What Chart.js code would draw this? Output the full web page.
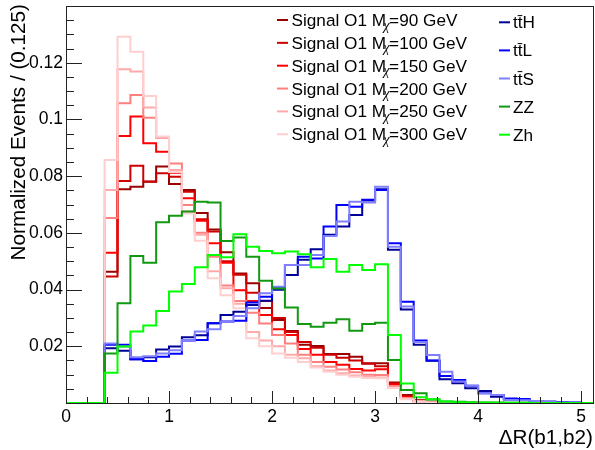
<!DOCTYPE html>
<html>
<head>
<meta charset="utf-8">
<script src="https://cdn.jsdelivr.net/npm/chart.js@4.4.0/dist/chart.umd.min.js"></script>
<style>
  html, body { margin: 0; padding: 0; background: #fff; }
</style>
</head>
<body>
<canvas id="c" width="595" height="450"></canvas>
<script>
// histogram binning: 41 bins of 0.125 from 0 to 5.125
const binWidth = 0.125;
const binLow = Array.from({ length: 41 }, (_, i) => i * binWidth);

// normalized bin contents, one array per sample
const sig90  = [0,0,0, 0.0463,0.0754,0.0763,0.0780,0.0834,0.0772,0.0751,0.0670,0.0612,0.0532, 0.0457,0.0422,0.0335,0.0293,0.0254,0.0205,0.0201,0.0173,0.0173,0.0163, 0.0140,0.0140,0.0072,0.0028,0.0010,0.0004,0.0002,0,0,0, 0,0,0,0,0,0,0,0];
const sig100 = [0,0,0, 0.0446,0.0783,0.0837,0.0781,0.0810,0.0798,0.0745,0.0648,0.0605,0.0500, 0.0452,0.0389,0.0360,0.0300,0.0250,0.0215,0.0195,0.0170,0.0160,0.0150, 0.0138,0.0130,0.0070,0.0025,0.0008,0.0003,0.0002,0,0,0, 0,0,0,0,0,0,0,0];
const sig150 = [0,0,0, 0.0530,0.0942,0.1010,0.0916,0.0886,0.0812,0.0722,0.0643,0.0563,0.0495, 0.0398,0.0360,0.0310,0.0260,0.0240,0.0190,0.0170,0.0145,0.0135,0.0120, 0.0115,0.0119,0.0065,0.0020,0.0007,0.0003,0.0001,0,0,0, 0,0,0,0,0,0,0,0];
const sig200 = [0,0,0, 0.0652,0.1057,0.1086,0.1006,0.0935,0.0845,0.0698,0.0600,0.0516,0.0414, 0.0360,0.0318,0.0280,0.0240,0.0210,0.0170,0.0145,0.0128,0.0118,0.0108, 0.0100,0.0099,0.0060,0.0018,0.0006,0.0002,0.0001,0,0,0, 0,0,0,0,0,0,0,0];
const sig250 = [0,0,0, 0.0751,0.1177,0.1169,0.1042,0.0937,0.0822,0.0675,0.0593,0.0465,0.0405, 0.0350,0.0250,0.0220,0.0200,0.0170,0.0158,0.0130,0.0115,0.0105,0.0097, 0.0092,0.0090,0.0055,0.0015,0.0005,0.0002,0.0001,0,0,0, 0,0,0,0,0,0,0,0];
const sig300 = [0,0,0, 0.0857,0.1292,0.1239,0.1083,0.0940,0.0815,0.0668,0.0572,0.0440,0.0380, 0.0334,0.0228,0.0200,0.0175,0.0160,0.0145,0.0125,0.0110,0.0100,0.0093, 0.0088,0.0087,0.0053,0.0013,0.0005,0.0002,0.0001,0,0,0, 0,0,0,0,0,0,0,0];
const ttH = [0,0,0, 0.0193,0.0184,0.0154,0.0161,0.0189,0.0199,0.0232,0.0239,0.0281,0.0310, 0.0322,0.0346,0.0361,0.0399,0.0451,0.0505,0.0542,0.0593,0.0622,0.0663, 0.0714,0.0754,0.0540,0.0330,0.0205,0.0149,0.0084,0.0070,0.0052,0.0042, 0.0022,0.0014,0.0012,0.0006,0.0004,0.0003,0.0001,0];
const ttL = [0,0,0, 0.0205,0.0205,0.0154,0.0148,0.0163,0.0174,0.0220,0.0222,0.0281,0.0287, 0.0290,0.0354,0.0375,0.0405,0.0487,0.0516,0.0510,0.0622,0.0698,0.0692, 0.0717,0.0751,0.0563,0.0357,0.0220,0.0150,0.0095,0.0081,0.0061,0.0034, 0.0028,0.0016,0.0014,0.0005,0.0004,0.0002,0.0002,0];
const ttS = [0,0,0, 0.0210,0.0199,0.0161,0.0165,0.0175,0.0186,0.0222,0.0252,0.0260,0.0287, 0.0307,0.0334,0.0387,0.0410,0.0487,0.0487,0.0522,0.0589,0.0640,0.0710, 0.0707,0.0763,0.0551,0.0340,0.0215,0.0169,0.0110,0.0076,0.0061,0.0034, 0.0028,0.0011,0.0010,0.0007,0.0004,0.0002,0.0002,0];
const ZZ  = [0,0,0, 0.0175,0.0352,0.0518,0.0495,0.0637,0.0660,0.0675,0.0710,0.0707,0.0571, 0.0584,0.0516,0.0431,0.0404,0.0337,0.0279,0.0269,0.0283,0.0295,0.0255, 0.0279,0.0283,0.0152,0.0046,0.0034,0.0012,0.0005,0.0004,0.0003,0.0002, 0.0002,0.0001,0.0001,0,0,0,0,0];
const Zh  = [0,0,0, 0.0107,0.0199,0.0252,0.0273,0.0324,0.0393,0.0420,0.0479,0.0522,0.0514, 0.0595,0.0551,0.0536,0.0528,0.0534,0.0525,0.0479,0.0508,0.0463,0.0487, 0.0469,0.0489,0.0240,0.0069,0.0020,0.0013,0.0005,0.0003,0.0002,0.0002, 0.0001,0.0001,0.0001,0,0,0,0,0];

const signalMasses = ['90', '100', '150', '200', '250', '300'];
const bkgLabels = ['tt\u0304H', 'tt\u0304L', 'tt\u0304S', 'ZZ', 'Zh'];

const FONT = '"Liberation Sans", Arial, Helvetica, sans-serif';
const GREEK = '"Liberation Serif", "DejaVu Serif", serif';

const series = [
  { label: 'Signal O1 Mχ=90 GeV',  data: sig90,  color: '#990000' },
  { label: 'Signal O1 Mχ=100 GeV', data: sig100, color: '#cc0000' },
  { label: 'Signal O1 Mχ=150 GeV', data: sig150, color: '#ff0000' },
  { label: 'Signal O1 Mχ=200 GeV', data: sig200, color: '#ff7f7f' },
  { label: 'Signal O1 Mχ=250 GeV', data: sig250, color: '#ffaaaa' },
  { label: 'Signal O1 Mχ=300 GeV', data: sig300, color: '#ffcfcf' },
  { label: bkgLabels[0], data: ttH, color: '#000099' },
  { label: bkgLabels[1], data: ttL, color: '#0000ff' },
  { label: bkgLabels[2], data: ttS, color: '#7f7fff' },
  { label: bkgLabels[3], data: ZZ,  color: '#119911' },
  { label: bkgLabels[4], data: Zh,  color: '#00ff00' },
];

// points at the low edge of every bin, plus the upper edge of the last one
function histPoints(vals) {
  const pts = vals.map((v, i) => ({ x: binLow[i], y: v }));
  pts.push({ x: binLow[vals.length - 1] + binWidth, y: vals[vals.length - 1] });
  return pts;
}

const datasets = series.map((s, i) => ({
  label: s.label,
  data: histPoints(s.data),
  borderColor: s.color,
  backgroundColor: s.color,
  borderWidth: 2,
  pointRadius: 0,
  stepped: 'before',
  fill: false,
  order: series.length - i, // later samples drawn on top, like ROOT
}));

// ROOT style frame, inward ticks, titles and legend
const rootStyle = {
  id: 'rootStyle',
  afterDraw(chart) {
    const { ctx, chartArea: a, scales } = chart;
    const xs = scales.x, ys = scales.y;
    ctx.save();
    ctx.strokeStyle = '#222';
    ctx.lineWidth = 1;
    ctx.strokeRect(a.left + 0.5, a.top + 0.5, a.right - a.left - 1, a.bottom - a.top);

    ctx.beginPath();
    for (let k = 0; k <= 28; k++) {
      const v = k * 0.005;
      const py = Math.round(ys.getPixelForValue(v)) + 0.5;
      const len = k % 4 === 0 ? 16 : 8;
      ctx.moveTo(a.left, py);
      ctx.lineTo(a.left + len, py);
    }
    for (let k = 0; k <= 25; k++) {
      const v = k * 0.2;
      const px = Math.round(xs.getPixelForValue(v)) + 0.5;
      const len = k % 5 === 0 ? 12 : 6;
      ctx.moveTo(px, a.bottom);
      ctx.lineTo(px, a.bottom - len);
    }
    ctx.stroke();

    // axis titles
    ctx.fillStyle = '#000';
    ctx.font = `20.7px ${FONT}`;
    ctx.textBaseline = 'alphabetic';
    ctx.textAlign = 'right';
    ctx.fillText('ΔR(b1,b2)', 593, 444);
    ctx.save();
    ctx.translate(25, 4);
    ctx.rotate(-Math.PI / 2);
    ctx.fillText('Normalized Events / (0.125)', 0, 0);
    ctx.restore();

    // legend, signals column
    ctx.textAlign = 'left';
    const lf = 17.2;
    signalMasses.forEach((m, i) => {
      const base = 26 + i * 22.85;
      ctx.strokeStyle = series[i].color;
      ctx.lineWidth = 2;
      ctx.beginPath();
      ctx.moveTo(277, base - 6);
      ctx.lineTo(288, base - 6);
      ctx.stroke();
      ctx.font = `${lf}px ${FONT}`;
      const head = 'Signal O1 M';
      ctx.fillText(head, 291.5, base);
      const w1 = ctx.measureText(head).width;
      ctx.font = `italic ${lf * 0.8}px ${GREEK}`;
      ctx.fillText('χ', 291.5 + w1 - 2.5, base + 3.5);
      const w2 = ctx.measureText('χ').width;
      ctx.font = `${lf}px ${FONT}`;
      ctx.fillText('=' + m + ' GeV', 291.5 + w1 + w2 - 3, base);
    });

    // legend, background column
    bkgLabels.forEach((t, i) => {
      const base = 28.3 + i * 28.1;
      const s = series[6 + i];
      ctx.strokeStyle = s.color;
      ctx.lineWidth = 2;
      ctx.beginPath();
      ctx.moveTo(499, base - 6);
      ctx.lineTo(510, base - 6);
      ctx.stroke();
      ctx.font = `${lf}px ${FONT}`;
      ctx.fillText(t, 513, base);
    });
    ctx.restore();
  }
};

new Chart(document.getElementById('c'), {
  type: 'line',
  data: { datasets },
  options: {
    responsive: false,
    animation: false,
    devicePixelRatio: 1,
    layout: { padding: { top: 6, right: 1, left: 0, bottom: 0 } },
    plugins: { legend: { display: false }, tooltip: { enabled: false } },
    scales: {
      x: {
        type: 'linear',
        min: 0,
        max: 5.125,
        grid: { display: false, drawTicks: false },
        border: { display: false },
        ticks: {
          stepSize: 1,
          includeBounds: false,
          padding: 4,
          maxRotation: 0,
          color: '#000',
          font: { family: FONT, size: 17.5 },
          callback: v => String(v),
        },
        afterFit: s => { s.height = 47; s.paddingLeft = 0; s.paddingRight = 0; },
      },
      y: {
        min: 0,
        max: 0.14,
        grid: { display: false, drawTicks: false },
        border: { display: false },
        ticks: {
          stepSize: 0.02,
          includeBounds: false,
          padding: 3,
          color: '#000',
          font: { family: FONT, size: 17.5 },
          callback: v => (v <= 0 || v > 0.13) ? '' : String(+v.toFixed(3)),
        },
        afterFit: s => { s.width = 66; s.paddingTop = 0; s.paddingBottom = 0; },
      },
    },
  },
  plugins: [rootStyle],
});
</script>
</body>
</html>
